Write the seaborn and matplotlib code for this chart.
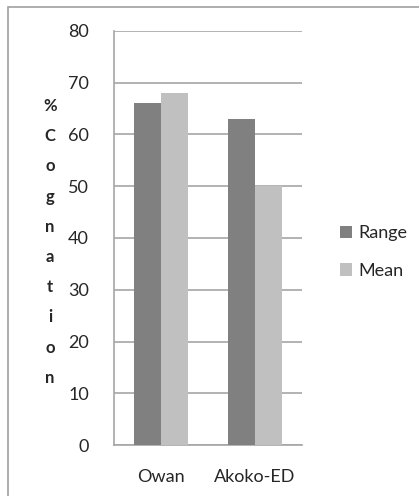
import pandas as pd
import seaborn as sns
import matplotlib.pyplot as plt
from matplotlib.patches import Rectangle

# datos
regiones = ['Owan', 'Akoko-ED']
rango = [66, 63]
media = [68, 50]
series = ['Range', 'Mean']
colores = ['#808080', '#c0c0c0']
etiqueta_y = '%Cognation'

df = pd.DataFrame({
    'region': regiones * 2,
    'serie': [series[0]] * 2 + [series[1]] * 2,
    'valor': rango + media,
})

sns.set_style('white')
plt.rcParams['font.family'] = ['Lato', 'DejaVu Sans']

W, H = 419, 496
fig = plt.figure(figsize=(W / 100, H / 100), dpi=100)
ax = fig.add_axes([114 / W, 1 - 445 / H, 188 / W, 414 / H])

sns.barplot(data=df, x='region', y='valor', hue='serie', palette=colores,
            width=0.575, saturation=1, linewidth=0, ax=ax, legend=True,
            zorder=3)

gris = '#a6a6a6'
txt = '#262626'
ax.set_ylim(0, 80)
ax.set_xlim(-0.5, 1.5)
ax.set_yticks(range(0, 81, 10))
ax.yaxis.grid(True, color=gris, linewidth=1.2, zorder=0)
ax.set_axisbelow(True)
ax.set_xlabel('')
ax.set_ylabel('')
for lado in ['top', 'right']:
    ax.spines[lado].set_visible(False)
for lado in ['left', 'bottom']:
    ax.spines[lado].set_color(gris)
    ax.spines[lado].set_linewidth(1.2)

ax.tick_params(axis='y', length=6, width=1.2, color=gris, labelsize=13,
               labelcolor=txt, pad=12)
ax.tick_params(axis='x', which='major', length=0, labelsize=13,
               labelcolor=txt, pad=17)
ax.set_xticks([-0.5, 0.5, 1.5], minor=True)
ax.tick_params(axis='x', which='minor', length=6, width=1.2, color=gris)

# leyenda
ax.legend(loc='center left', bbox_to_anchor=(324 / W, 1 - 252 / H),
          bbox_transform=fig.transFigure, frameon=False, fontsize=13,
          handlelength=0.65, handleheight=0.65, handletextpad=0.35,
          labelspacing=1.2, labelcolor=txt)

# etiqueta vertical letra por letra
y0, paso = 106, 30.2
for i, letra in enumerate(etiqueta_y):
    fig.text(50 / W, 1 - (y0 + i * paso) / H, letra, ha='center', va='center',
             fontsize=12, fontweight='bold', color=txt)

# borde del grafico (solo se ven arriba y a la izquierda)
fig.patches.append(Rectangle((8 / W, -0.1), 1.2, 1.1 - 7 / H,
                             transform=fig.transFigure, fill=False,
                             edgecolor='#a0a0a0', linewidth=1.2))

fig.savefig('out.png', dpi=100)
